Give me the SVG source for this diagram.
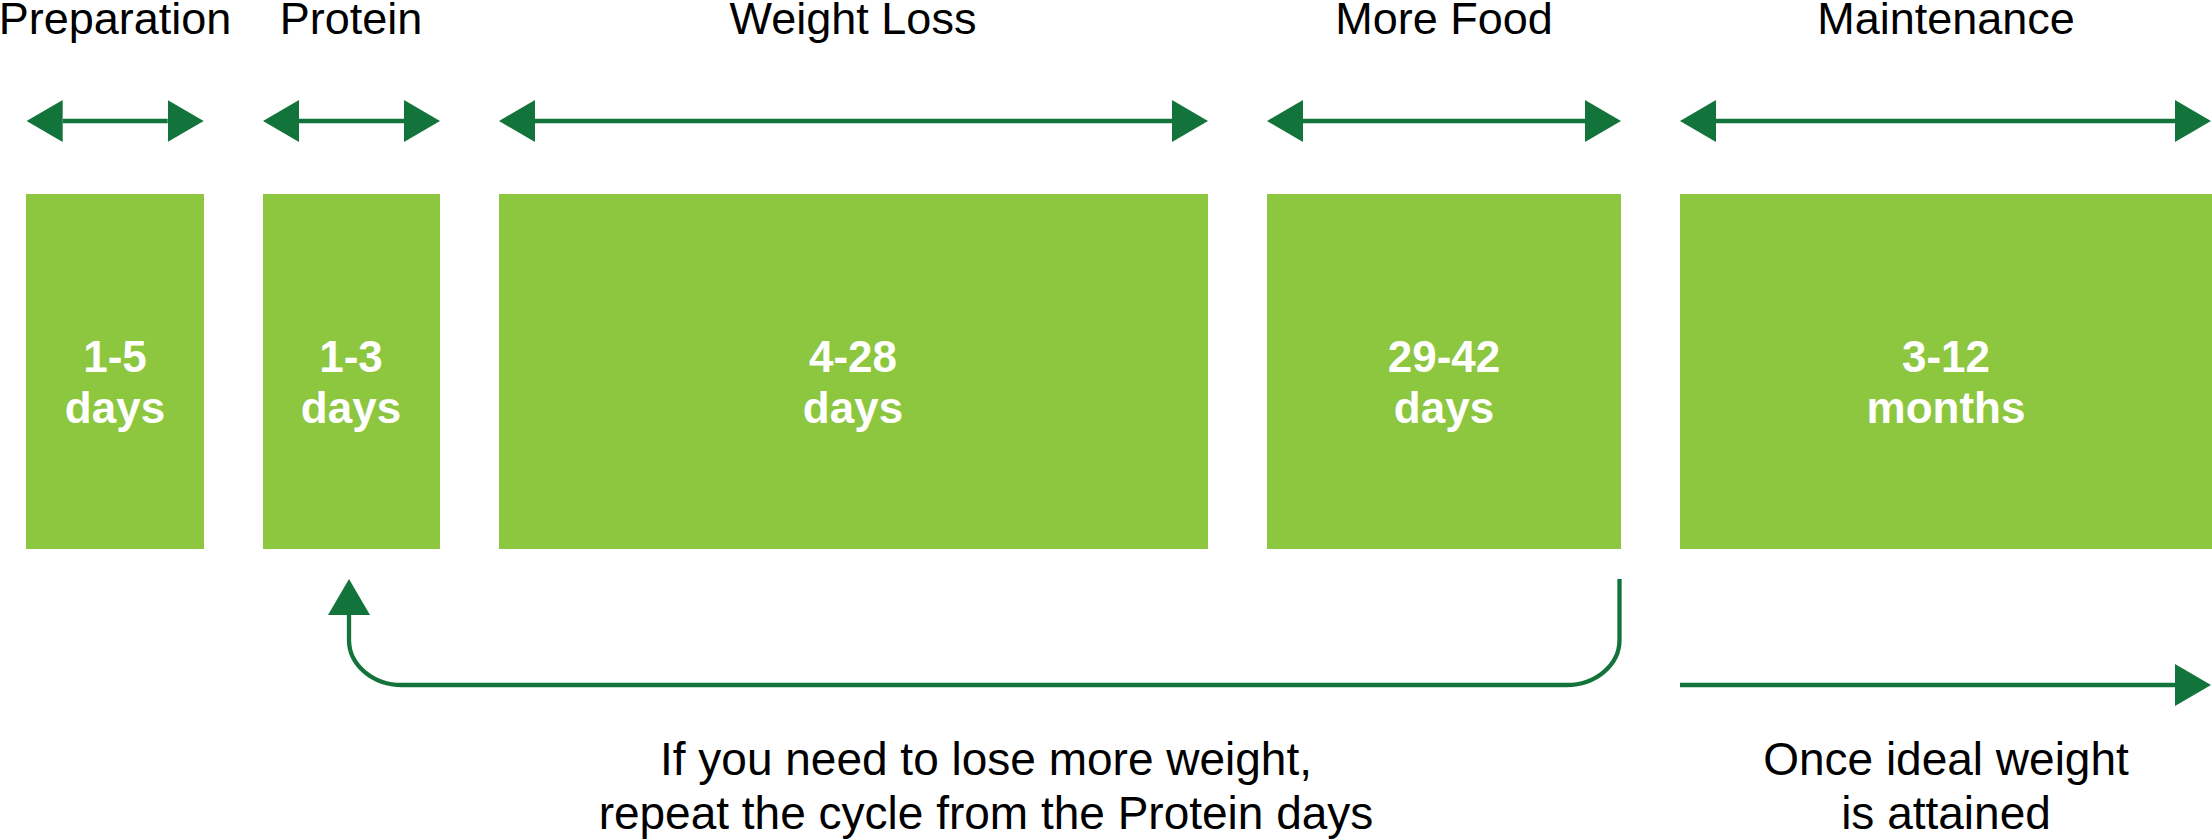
<svg xmlns="http://www.w3.org/2000/svg" width="2212" height="840" viewBox="0 0 2212 840">
<style>
.box{fill:#8DC63F;}
.title{font-family:"Liberation Sans",Arial,sans-serif;font-size:45px;fill:#000;text-anchor:middle;}
.val{font-family:"Liberation Sans",Arial,sans-serif;font-size:44px;font-weight:bold;fill:#fff;text-anchor:middle;}
.note{font-family:"Liberation Sans",Arial,sans-serif;font-size:46px;fill:#000;text-anchor:middle;}
.con{fill:none;stroke:#12733B;stroke-width:4.3;}
</style>
<defs>
<marker id="ah" markerUnits="userSpaceOnUse" markerWidth="36" markerHeight="42" refX="0" refY="21" orient="auto-start-reverse" viewBox="0 0 36 42">
<path d="M0,0 L36,21 L0,42 Z" fill="#12733B"/>
</marker>
</defs>
<rect width="2212" height="840" fill="#fff"/>
<g id="node-preparation">
<text class="title" x="115" y="34">Preparation</text>
<rect class="box" x="26" y="194" width="178" height="355"/>
<text class="val" x="115" y="372">1-5</text>
<text class="val" x="115" y="423">days</text>
</g>
<g id="node-protein">
<text class="title" x="351" y="34">Protein</text>
<rect class="box" x="263" y="194" width="177" height="355"/>
<text class="val" x="351" y="372">1-3</text>
<text class="val" x="351" y="423">days</text>
</g>
<g id="node-weightloss">
<text class="title" x="853" y="34">Weight Loss</text>
<rect class="box" x="499" y="194" width="709" height="355"/>
<text class="val" x="853" y="372">4-28</text>
<text class="val" x="853" y="423">days</text>
</g>
<g id="node-morefood">
<text class="title" x="1444" y="34">More Food</text>
<rect class="box" x="1267" y="194" width="354" height="355"/>
<text class="val" x="1444" y="372">29-42</text>
<text class="val" x="1444" y="423">days</text>
</g>
<g id="node-maintenance">
<text class="title" x="1946" y="34">Maintenance</text>
<rect class="box" x="1680" y="194" width="532" height="355"/>
<text class="val" x="1946" y="372">3-12</text>
<text class="val" x="1946" y="423">months</text>
</g>
<g id="connectors">
<path class="con" d="M62.7,121 H167.7" marker-start="url(#ah)" marker-end="url(#ah)"/>
<path class="con" d="M299,121 H404" marker-start="url(#ah)" marker-end="url(#ah)"/>
<path class="con" d="M535,121 H1172" marker-start="url(#ah)" marker-end="url(#ah)"/>
<path class="con" d="M1303,121 H1585" marker-start="url(#ah)" marker-end="url(#ah)"/>
<path class="con" d="M1716,121 H2175" marker-start="url(#ah)" marker-end="url(#ah)"/>
<path class="con" d="M1619.5,579 V640 A53,45 0 0 1 1566.5,685 H402 A53,45 0 0 1 349,640 V615" marker-end="url(#ah)"/>
<path class="con" d="M1680,685 H2175" marker-end="url(#ah)"/>
</g>
<g id="notes">
<text class="note" x="986" y="775">If you need to lose more weight,</text>
<text class="note" x="986" y="829">repeat the cycle from the Protein days</text>
<text class="note" x="1946" y="775">Once ideal weight</text>
<text class="note" x="1946" y="829">is attained</text>
</g>
</svg>
